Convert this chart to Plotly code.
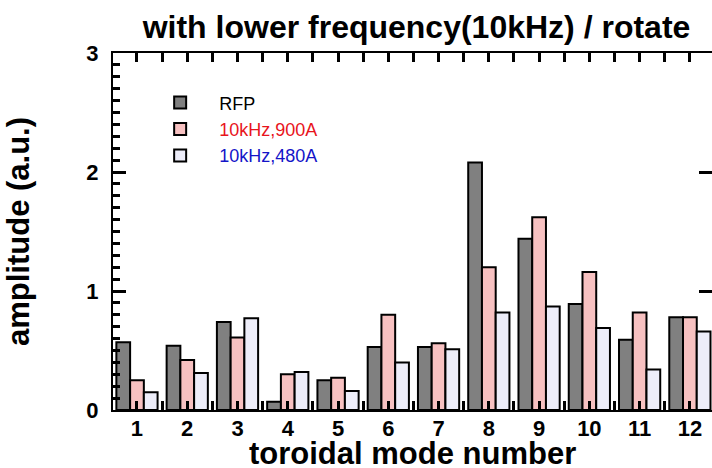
import plotly.graph_objects as go

modes = [1, 2, 3, 4, 5, 6, 7, 8, 9, 10, 11, 12]
rfp = [0.57, 0.54, 0.74, 0.07, 0.25, 0.53, 0.53, 2.08, 1.44, 0.89, 0.59, 0.78]
khz900 = [0.25, 0.42, 0.61, 0.30, 0.27, 0.80, 0.56, 1.20, 1.62, 1.16, 0.82, 0.78]
khz480 = [0.15, 0.31, 0.77, 0.32, 0.16, 0.40, 0.51, 0.82, 0.87, 0.69, 0.34, 0.66]

series_names = ["RFP", "10kHz,900A", "10kHz,480A"]
series_vals = [rfp, khz900, khz480]
fill_colors = ["#808080", "#f7c1c1", "#ededf9"]
text_colors = ["#000000", "#e8141c", "#1414c8"]

x_title = "toroidal mode number"
y_title = "amplitude (a.u.)"
chart_title = "with lower frequency(10kHz) / rotate"

x_tickvals = []
x_ticktext = []
for m in modes:
    x_tickvals += [m - 0.5, m]
    x_ticktext += ["", f"<b>{m}</b>"]
x_tickvals.append(modes[-1] + 0.5)
x_ticktext.append("")

fig = go.Figure()
for name, vals, fc, tc in zip(series_names, series_vals, fill_colors, text_colors):
    fig.add_trace(go.Bar(
        x=modes, y=vals,
        name=f"<span style='color:{tc}'>{name}</span>",
        marker=dict(color=fc, line=dict(color="#000000", width=2)),
    ))
# empty helper trace so that the minor-tick overlay axis is drawn
fig.add_trace(go.Scatter(x=[], y=[], yaxis="y2", showlegend=False, hoverinfo="skip"))

font_family = "Liberation Sans, Arial, sans-serif"
tick_col = "rgb(0,0,0)"
fig.update_layout(
    width=712, height=468,
    margin=dict(l=113, r=0, t=53, b=58),
    paper_bgcolor="white", plot_bgcolor="white",
    barmode="group", bargap=0.18, bargroupgap=0,
    font=dict(family=font_family, color="black"),
    title=dict(text=f"<b>{chart_title}</b>",
               font=dict(size=32, family=font_family, color="black"),
               x=0.585, xanchor="center", y=0.942, yanchor="middle"),
    showlegend=True,
    legend=dict(x=0.047, y=0.912, xanchor="left", yanchor="top",
                bgcolor="rgba(0,0,0,0)", font=dict(size=18, family=font_family),
                itemwidth=68, tracegroupgap=0),
    xaxis=dict(
        range=[0.523, 12.44], tickmode="array", tickvals=x_tickvals,
        ticktext=x_ticktext, automargin=False,
        tickfont=dict(size=22, family=font_family),
        ticks="inside", ticklen=9, tickwidth=3, tickcolor=tick_col,
        ticklabelstandoff=-2,
        showline=True, linecolor="black", linewidth=2, mirror="ticks",
        showgrid=False, zeroline=False,
    ),
    yaxis=dict(
        range=[0, 3], tickmode="linear", tick0=0, dtick=1, automargin=False,
        tickformat="d", tickprefix="<b>", ticksuffix="</b>",
        tickfont=dict(size=22, family=font_family),
        ticks="inside", ticklen=13, tickwidth=3, tickcolor=tick_col,
        ticklabelstandoff=8,
        showline=True, linecolor="black", linewidth=2, mirror="ticks",
        showgrid=False, zeroline=False,
        title=dict(text=f"<b>{y_title}</b>", font=dict(size=31, family=font_family), standoff=47),
    ),
    yaxis2=dict(
        overlaying="y", anchor="x", side="left", automargin=False,
        range=[0, 3], tickmode="linear", tick0=0, dtick=0.1,
        showticklabels=False,
        ticks="inside", ticklen=7, tickwidth=3, tickcolor=tick_col,
        showline=False, mirror=False,
        showgrid=False, zeroline=False,
    ),
    annotations=[dict(
        text=f"<b>{x_title}</b>", xref="paper", yref="paper",
        x=0.5, y=-0.123, xanchor="center", yanchor="middle",
        showarrow=False, font=dict(size=31, family=font_family, color="black"),
    )],
)

fig.write_html("out.html")
